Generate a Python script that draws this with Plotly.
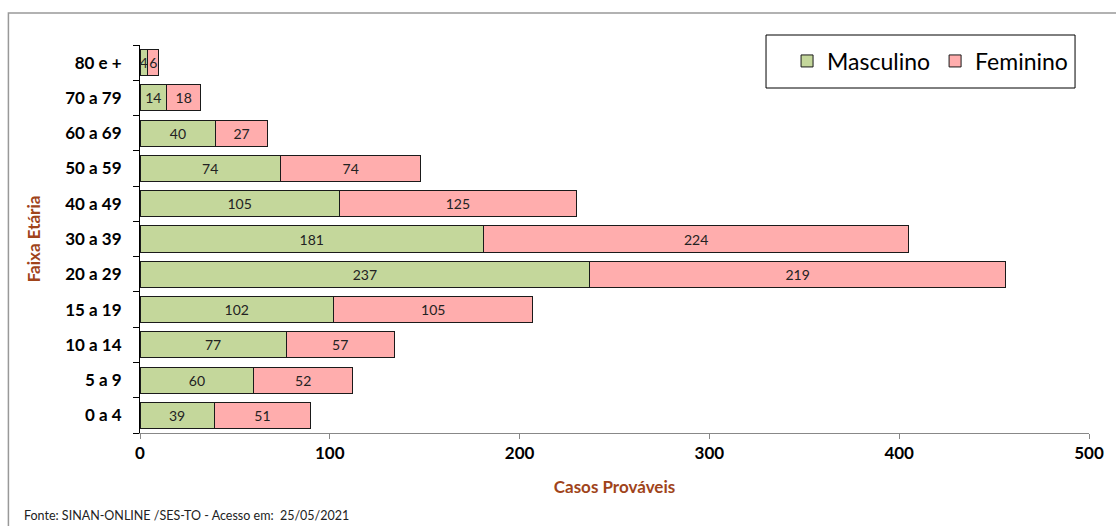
import plotly.graph_objects as go

# Faixas etárias (de baixo para cima no eixo)
faixas = ["0 a 4", "5 a 9", "10 a 14", "15 a 19", "20 a 29", "30 a 39",
          "40 a 49", "50 a 59", "60 a 69", "70 a 79", "80 e +"]
masculino = [39, 60, 77, 102, 237, 181, 105, 74, 40, 14, 4]
feminino = [51, 52, 57, 105, 219, 224, 125, 74, 27, 18, 6]
x_ticks = [0, 100, 200, 300, 400, 500]

FONT = "Lato, Open Sans, sans-serif"
TITLE_COLOR = "#a0441a"

fig = go.Figure()
fig.add_trace(go.Bar(
    y=faixas, x=masculino, name="Masculino", orientation="h",
    marker=dict(color="#c4d79b", line=dict(color="#1a1a1a", width=1)),
    text=masculino, textposition="inside", insidetextanchor="middle",
    textfont=dict(family=FONT, size=14, color="#222222"),
    cliponaxis=False,
))
fig.add_trace(go.Bar(
    y=faixas, x=feminino, name="Feminino", orientation="h",
    marker=dict(color="#ffadad", line=dict(color="#1a1a1a", width=1)),
    text=feminino, textposition="inside", insidetextanchor="middle",
    textfont=dict(family=FONT, size=14, color="#222222"),
    cliponaxis=False,
))

W, H = 1116, 526
L, R, T, B = 140, 24, 45, 93
pw, ph = W - L - R, H - T - B

def px_x(x):
    return (x - L) / pw

def px_y(y):
    return 1 - (y - T) / ph

fig.update_layout(
    width=W, height=H,
    margin=dict(l=L, r=R, t=T, b=B),
    barmode="stack", bargap=0.26,
    plot_bgcolor="white", paper_bgcolor="white",
    font=dict(family=FONT, color="black"),
    uniformtext=dict(minsize=14, mode="show"),
    showlegend=True,
    legend=dict(
        orientation="h", x=px_x(1076), xanchor="right", y=px_y(61), yanchor="middle",
        borderwidth=0, bgcolor="rgba(0,0,0,0)",
        font=dict(family=FONT, size=23, color="black"),
        traceorder="normal",
    ),
    xaxis=dict(
        range=[0, 500], tickvals=x_ticks, ticktext=[str(v) for v in x_ticks],
        showgrid=False, zeroline=False,
        showline=True, linecolor="#888888", linewidth=1,
        ticks="outside", ticklen=5, tickcolor="#888888",
        tickfont=dict(family=FONT, size=17, color="black", weight="bold"),
        title=dict(text="<b>Casos Prováveis</b>", standoff=18,
                   font=dict(family=FONT, size=17, color=TITLE_COLOR)),
    ),
    yaxis=dict(
        categoryorder="array", categoryarray=faixas,
        showgrid=False, zeroline=False,
        showline=True, linecolor="black", linewidth=1,
        ticks="outside", ticklen=6, tickcolor="black", tickson="boundaries",
        ticklabelstandoff=14,
        tickfont=dict(family=FONT, size=17, color="black", weight="bold"),
        title=dict(text="<b>Faixa Etária</b>", standoff=20,
                   font=dict(family=FONT, size=17, color=TITLE_COLOR)),
    ),
    shapes=[
        dict(
            type="rect", xref="paper", yref="paper",
            x0=px_x(8), x1=px_x(1120), y0=px_y(13), y1=px_y(540),
            line=dict(color="#999999", width=1.5), fillcolor="rgba(0,0,0,0)",
            layer="below",
        ),
        # moldura da legenda
        dict(
            type="rect", xref="paper", yref="paper",
            x0=px_x(768), x1=px_x(1078), y0=px_y(35), y1=px_y(88),
            line=dict(color="black", width=1), fillcolor="white",
            layer="above",
        ),
    ],
    annotations=[dict(
        text="Fonte: SINAN-ONLINE /SES-TO - Acesso em:  25/05/2021",
        xref="paper", yref="paper", x=px_x(22), y=px_y(515),
        xanchor="left", yanchor="middle", showarrow=False,
        font=dict(family=FONT, size=12.5, color="#222222"),
    )],
)

fig.write_html("out.html")
